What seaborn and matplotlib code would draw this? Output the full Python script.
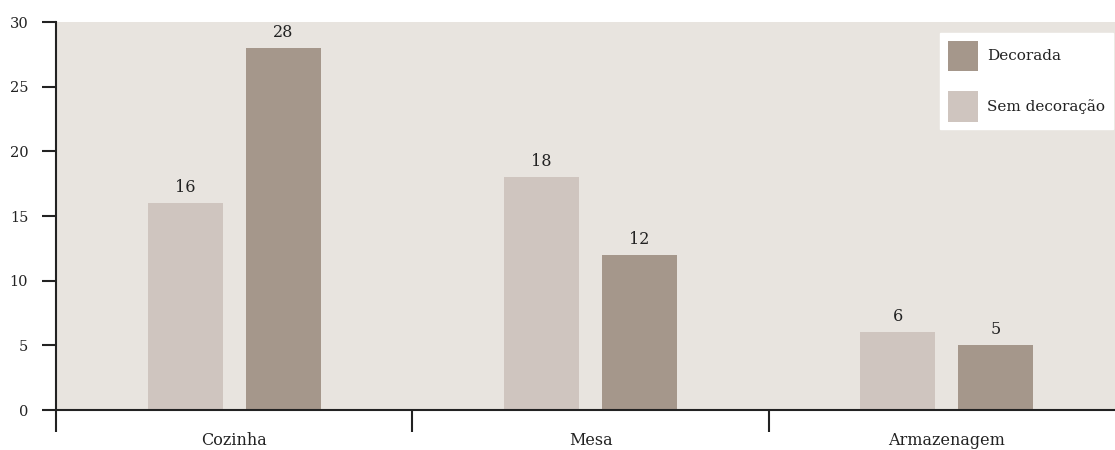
import pandas as pd
import seaborn as sns
import matplotlib.pyplot as plt
from matplotlib.ticker import FixedLocator

# data
categorias = ["Cozinha", "Mesa", "Armazenagem"]
sem_decoracao = [16, 18, 6]
decorada = [28, 12, 5]

df = pd.DataFrame({
    "categoria": categorias * 2,
    "tipo": ["Sem decoração"] * 3 + ["Decorada"] * 3,
    "valor": sem_decoracao + decorada,
})

sns.set_style("white")
plt.rcParams["font.family"] = ["DejaVu Serif"]
ink = "#222222"

fig = plt.figure(figsize=(11.15, 4.5), dpi=100)
ax = fig.add_axes([56 / 1115, 40 / 450, 1069 / 1115, 388 / 450])
ax.set_facecolor("#e8e4df")

palette = {"Sem decoração": "#cfc5bf", "Decorada": "#a5978b"}
sns.barplot(data=df, x="categoria", y="valor", hue="tipo",
            hue_order=["Sem decoração", "Decorada"], palette=palette,
            width=0.55, gap=0.235, saturation=1, linewidth=0, ax=ax)

for c in ax.containers:
    ax.bar_label(c, fmt="%d", padding=5, fontsize=11.5, color=ink)

ax.set_ylim(0, 30)
ax.set_xlim(-0.5, 2.5)
ax.set_yticks(range(0, 31, 5))
ax.set_xlabel("")
ax.set_ylabel("")

for s in ["top", "right"]:
    ax.spines[s].set_visible(False)
for s in ["left", "bottom"]:
    ax.spines[s].set_color(ink)
    ax.spines[s].set_linewidth(1.5)

ax.tick_params(axis="y", left=True, length=10, width=1.5, color=ink, pad=10,
               labelsize=10.5, labelcolor=ink)
ax.tick_params(axis="x", which="major", bottom=True, length=0, pad=16,
               labelsize=11.5, labelcolor=ink)
ax.xaxis.set_minor_locator(FixedLocator([-0.5, 0.5, 1.5, 2.5]))
ax.tick_params(axis="x", which="minor", bottom=True, length=16, width=1.5,
               color=ink, direction="out")

handles, labels = ax.get_legend_handles_labels()
order = [labels.index("Decorada"), labels.index("Sem decoração")]
leg = ax.legend([handles[i] for i in order], [labels[i] for i in order],
                loc="upper left", bbox_to_anchor=(884 / 1069, 1 - 11 / 388),
                frameon=True, fancybox=False, framealpha=1,
                edgecolor="white", facecolor="white", fontsize=11,
                handlelength=2.0, handleheight=2.7, labelspacing=1.3,
                borderpad=0.5, handletextpad=0.6, borderaxespad=0)
for t in leg.get_texts():
    t.set_color(ink)

fig.savefig("out.png", dpi=100)
